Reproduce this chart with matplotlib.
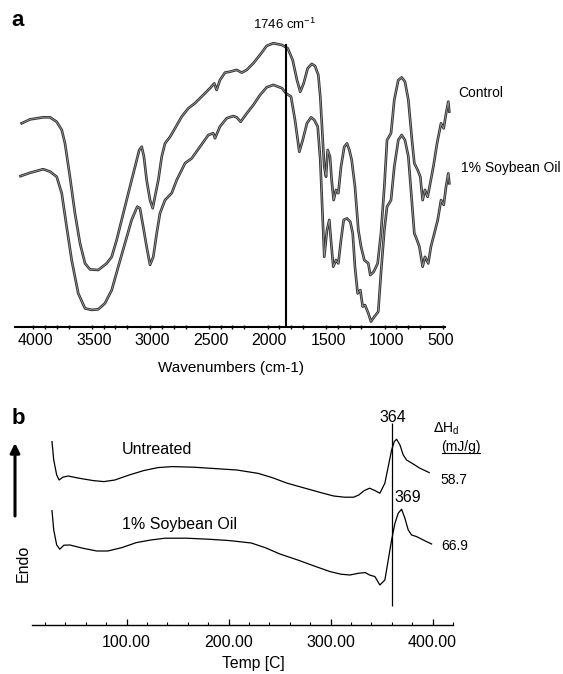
#!/usr/bin/env python3
# ftir_dsc.py

import matplotlib
matplotlib.use("Agg")
import matplotlib.pyplot as plt
import matplotlib.patheffects as pe
from matplotlib.lines import Line2D
from matplotlib.ticker import MultipleLocator
from matplotlib.transforms import ScaledTranslation

plt.rcParams["font.family"] = ["Liberation Sans", "DejaVu Sans"]

# ---- panel a: FTIR spectra (wavenumber cm-1, transmittance arb. units)
ctrl_wn = [4000, 3929, 3816, 3758, 3701, 3658, 3630, 3588, 3545, 3502, 3459, 3417, 3346,
           3274, 3231, 3189, 3132, 3075, 3032, 2996, 2975, 2956, 2933, 2904, 2881, 2862,
           2833, 2804, 2776, 2733, 2691, 2634, 2577, 2520, 2463, 2392, 2355, 2335, 2307,
           2264, 2221, 2164, 2121, 2078, 2022, 1965, 1908, 1851, 1777, 1728, 1686, 1649,
           1621, 1592, 1558, 1523, 1495, 1467, 1450, 1429, 1416, 1401, 1387, 1367, 1353,
           1336, 1316, 1296, 1273, 1245, 1222, 1202, 1182, 1154, 1125, 1102, 1074, 1040,
           1023, 994, 960, 932, 903, 880, 846, 818, 784, 755, 727, 698, 667, 647, 618, 596,
           576, 556, 533, 511, 482, 453, 419, 396, 376, 357, 348]
ctrl_t = [67.9, 69.2, 69.9, 69.9, 68.4, 65.7, 61.2, 50.1, 37.9, 27.9, 21.2, 19.2, 19.0,
          21.2, 23.4, 29.0, 37.9, 46.8, 53.4, 59.0, 60.1, 56.8, 49.0, 42.3, 39.6, 43.4,
          49.0, 56.8, 61.2, 63.4, 66.2, 70.1, 72.9, 74.6, 76.8, 79.6, 81.2, 79.0, 82.3,
          84.8, 85.1, 85.7, 84.8, 85.7, 87.9, 90.7, 93.7, 94.6, 94.0, 92.9, 89.0, 82.3,
          78.4, 81.2, 86.2, 87.7, 87.0, 84.0, 76.8, 62.3, 53.4, 50.1, 59.0, 56.8, 49.0,
          42.3, 45.7, 44.6, 53.4, 60.1, 61.2, 59.0, 55.7, 46.8, 32.3, 26.8, 22.3, 21.2,
          17.3, 18.4, 21.2, 31.2, 46.8, 62.3, 64.6, 75.7, 82.3, 83.2, 81.8, 75.7, 62.3,
          54.6, 52.3, 50.1, 42.3, 45.7, 43.4, 47.9, 54.0, 61.2, 67.9, 66.2, 71.2, 75.1, 71.8]

soy_wn = [4010, 3929, 3816, 3758, 3701, 3658, 3616, 3573, 3517, 3459, 3402, 3346, 3289,
          3231, 3175, 3118, 3061, 3013, 2990, 2962, 2933, 2904, 2876, 2847, 2819, 2776,
          2719, 2676, 2605, 2548, 2477, 2406, 2364, 2349, 2307, 2249, 2193, 2164, 2130,
          2078, 2022, 1965, 1908, 1851, 1777, 1743, 1700, 1666, 1629, 1600, 1564, 1529,
          1501, 1472, 1450, 1429, 1416, 1393, 1373, 1359, 1339, 1316, 1296, 1273, 1250,
          1222, 1194, 1173, 1154, 1131, 1108, 1088, 1068, 1040, 1017, 989, 955, 932, 903,
          880, 846, 818, 784, 755, 727, 698, 669, 647, 624, 604, 576, 556, 528, 505, 476,
          447, 419, 396, 376, 357, 348]
soy_t = [50.3, 51.4, 52.6, 51.8, 50.1, 44.6, 33.4, 22.3, 11.2, 6.2, 5.7, 5.9, 7.9, 12.3,
         20.1, 27.9, 35.7, 40.1, 39.6, 33.4, 26.8, 20.7, 23.4, 31.2, 37.9, 42.3, 44.6,
         49.0, 54.6, 56.2, 60.1, 64.0, 64.6, 62.9, 66.8, 69.6, 70.3, 69.9, 68.4, 71.2,
         74.0, 77.3, 79.9, 80.7, 79.6, 77.9, 76.8, 69.0, 58.4, 62.3, 67.9, 69.9, 69.0,
         66.8, 55.7, 35.7, 23.4, 32.3, 35.7, 29.0, 20.1, 22.3, 21.2, 29.0, 35.7, 36.2,
         35.1, 31.2, 20.1, 11.2, 12.3, 6.8, 7.3, 4.6, 1.8, 3.4, 5.1, 17.9, 32.3, 40.1,
         42.3, 53.4, 62.3, 64.0, 62.3, 56.8, 42.3, 31.2, 29.0, 26.8, 20.1, 23.4, 21.2,
         26.8, 31.2, 35.7, 42.3, 40.7, 46.8, 51.2, 47.9]

wn_ticks = [4000, 3500, 3000, 2500, 2000, 1500, 1000, 500]
carbonyl_wn = 1746
spectra_names = ["Control", "1% Soybean Oil"]

# ---- panel b: DSC thermograms (temperature C, heat flow arb. units)
unt_temp = [26.8, 28.5, 31.4, 33.8, 37.4, 42.6, 53.2, 67.3, 77.7, 88.4, 102.5, 116.6,
            130.6, 144.7, 165.8, 187.0, 208.0, 229.1, 243.2, 257.4, 274.9, 292.5, 303.0,
            313.6, 322.5, 327.6, 332.9, 338.2, 343.5, 348.3, 353.2, 356.5, 359.8, 362.4,
            364.7, 368.0, 371.2, 374.5, 381.0, 387.5, 396.7]
unt_hf = [9.17, 8.25, 7.5, 7.25, 7.39, 7.45, 7.34, 7.22, 7.17, 7.25, 7.5, 7.72, 7.87,
          7.92, 7.89, 7.82, 7.75, 7.58, 7.36, 7.09, 6.84, 6.59, 6.45, 6.39, 6.39, 6.5,
          6.72, 6.84, 6.72, 6.59, 7.09, 7.92, 8.75, 9.17, 9.29, 9.0, 8.5, 8.25, 8.05,
          7.84, 7.62]

soyd_temp = [26.8, 28.5, 31.4, 34.5, 38.4, 44.4, 56.8, 70.8, 81.4, 95.4, 109.5, 123.6,
             137.6, 158.7, 179.9, 201.0, 222.2, 236.2, 250.3, 267.8, 285.5, 299.5, 310.1,
             318.9, 327.6, 334.0, 338.2, 343.4, 348.3, 353.2, 356.5, 359.8, 363.1, 366.3,
             369.6, 372.8, 376.1, 379.4, 384.3, 390.8, 399.0]
soyd_hf = [5.72, 4.75, 4.0, 3.79, 3.99, 4.0, 3.84, 3.7, 3.7, 3.87, 4.12, 4.25, 4.34,
           4.34, 4.29, 4.22, 4.1, 3.86, 3.55, 3.25, 2.92, 2.67, 2.54, 2.5, 2.59, 2.62,
           2.5, 2.42, 2.0, 2.25, 3.25, 4.25, 5.09, 5.59, 5.79, 5.34, 4.75, 4.5, 4.42,
           4.25, 4.05]

temp_ticks = [100, 200, 300, 400]
peak_line_temp = 360
peak_labels = ["364", "369"]
enthalpies = ["58.7", "66.9"]
dsc_names = ["Untreated", "1% Soybean Oil"]

W, H = 563, 674


def px(x, y):
    # pixel position (from top-left) -> figure fraction
    return x / W, 1 - y / H


def plot_ftir(fig, ax):
    spectrum_fx = [pe.Stroke(linewidth=1.9, foreground="#303030"), pe.Normal()]
    for wn, t in [(ctrl_wn, ctrl_t), (soy_wn, soy_t)]:
        ax.plot(wn, t, color="#9a9a9a", linewidth=0.6, clip_on=False,
                path_effects=spectrum_fx)

    ax.vlines(carbonyl_wn, 0, 94.3, color="black", linewidth=1.5)

    ax.set_xlim(4057, 385)
    ax.set_ylim(0, 96)
    for side in ["top", "left", "right"]:
        ax.spines[side].set_visible(False)
    ax.spines["bottom"].set_linewidth(1.5)
    ax.set_yticks([])

    ax.set_xticks(wn_ticks)
    ax.set_xticklabels([str(t) for t in wn_ticks], fontsize=11.5)
    ax.xaxis.set_minor_locator(MultipleLocator(100))
    ax.tick_params(axis="x", which="major", length=0, pad=4)
    ax.tick_params(axis="x", which="minor", length=3.5, width=1, direction="inout")
    shift = ScaledTranslation(-3 / 72, 0, fig.dpi_scale_trans)
    for lbl in ax.get_xticklabels():
        lbl.set_horizontalalignment("left")
        lbl.set_transform(lbl.get_transform() + shift)

    ax.set_xlabel("Wavenumbers (cm-1)", fontsize=11)
    ax.xaxis.set_label_coords(0.503, -0.142)
    ax.xaxis.label.set_va("center")

    fig.text(*px(11, 21), "a", fontsize=16, fontweight="bold", va="center")
    fig.text(*px(285, 24), r"1746 cm$^{\mathregular{-1}}$", fontsize=9.5,
             ha="center", va="center")
    fig.text(*px(458, 93), spectra_names[0], fontsize=10, va="center")
    fig.text(*px(461, 168), spectra_names[1], fontsize=10, va="center")


def plot_dsc(fig, ax):
    ax.plot(unt_temp, unt_hf, color="black", linewidth=0.9)
    ax.plot(soyd_temp, soyd_hf, color="black", linewidth=0.9)
    ax.vlines(peak_line_temp, 0.95, 10.1, color="black", linewidth=0.9)

    ax.set_xlim(6.9, 420)
    ax.set_ylim(0, 10.5)
    for side in ["top", "left", "right"]:
        ax.spines[side].set_visible(False)
    ax.spines["bottom"].set_linewidth(1.0)
    ax.set_yticks([])

    ax.set_xticks(temp_ticks)
    ax.set_xticklabels([f"{t:.2f}" for t in temp_ticks], fontsize=11.5)
    ax.xaxis.set_minor_locator(MultipleLocator(20))
    ax.tick_params(axis="x", which="major", length=4, width=0.9, direction="in", pad=7)
    ax.tick_params(axis="x", which="minor", length=2.5, width=0.8, direction="in")

    ax.set_xlabel("Temp [C]", fontsize=11.3)
    ax.xaxis.set_label_coords(0.525, -0.181)
    ax.xaxis.label.set_va("center")

    fig.text(*px(12, 419), "b", fontsize=16, fontweight="bold", va="center")
    fig.text(*px(122, 450), dsc_names[0], fontsize=11.5, va="center")
    fig.text(*px(122, 525), dsc_names[1], fontsize=11.5, va="center")
    fig.text(*px(393, 417), peak_labels[0], fontsize=11.5, ha="center", va="center")
    fig.text(*px(408, 498), peak_labels[1], fontsize=11.5, ha="center", va="center")
    fig.text(*px(433, 429), r"$\Delta$H$_{\mathregular{d}}$", fontsize=10, va="center")
    fig.text(*px(441.5, 446.5), "(mJ/g)", fontsize=10, va="center")
    fig.add_artist(Line2D([441.5 / W, 480 / W], [1 - 452.5 / H, 1 - 452.5 / H],
                          color="black", linewidth=0.8))
    fig.text(*px(440, 480), enthalpies[0], fontsize=10, va="center")
    fig.text(*px(441.5, 546.5), enthalpies[1], fontsize=10, va="center")

    fig.text(*px(23, 563), "Endo", fontsize=11.5, rotation=90,
             ha="center", va="center")
    ax.annotate("", xy=px(15, 443), xytext=px(15, 516),
                xycoords="figure fraction", textcoords="figure fraction",
                arrowprops=dict(arrowstyle="-|>", color="black", lw=2.2,
                                mutation_scale=14, shrinkA=0, shrinkB=0))


def main():
    fig = plt.figure(figsize=(W / 100, H / 100), dpi=100)

    ax_a = fig.add_axes([15 / W, 1 - 327 / H, 430 / W, 288 / H])
    plot_ftir(fig, ax_a)

    ax_b = fig.add_axes([31.7 / W, 1 - 625 / H, 421.3 / W, 210 / H])
    plot_dsc(fig, ax_b)

    fig.savefig("out.png", dpi=100)


if __name__ == "__main__":
    main()
